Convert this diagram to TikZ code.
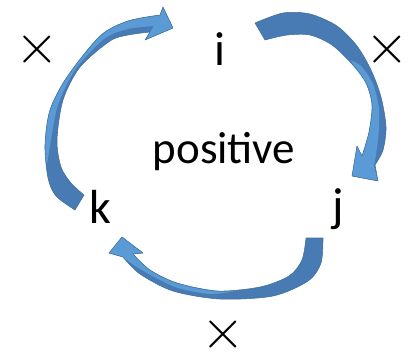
\documentclass[tikz,border=0pt]{standalone}
\usepackage{fontspec}
\setmainfont{Carlito}
\usetikzlibrary{positioning}
\definecolor{arrdark}{RGB}{72,122,180}
\definecolor{arrlight}{RGB}{91,155,213}
\definecolor{arrline}{RGB}{65,113,156}
\tikzset{
  letter/.style={anchor=base,inner sep=0pt,font=\fontsize{34}{40}\selectfont},
  cross/.style={inner sep=0pt,font=\fontsize{24}{28}\selectfont},
}
\newcommand\bigtimes{\scalebox{1.6}{$\times$}}
\def\bodyone{plot[smooth] coordinates {(75,210) (56,196) (48,178) (45,145) (50,110) (67,77) (100,36) (128,21) (160,15)}
  -- (163,7) -- (173,28) -- (145,40)
  -- plot[smooth] coordinates {(150,32) (128,35) (110,41) (80,67) (63,100) (57,140) (61,167) (71,183) (84,195)} -- cycle}
\def\liteone{plot[smooth] coordinates {(47,165) (45,145) (50,110) (67,77) (100,36) (128,21) (160,15)}
  -- (163,7) -- (173,28) -- (145,40)
  -- plot[smooth] coordinates {(154,26) (128,29) (104,39) (75,70) (58,105) (51,140) (47,165)} -- cycle}
\def\bodytwo{plot[smooth] coordinates {(255,23) (283,13) (310,14) (337,26) (357,46) (371,70) (381,97) (386,127) (383,150) (375,165)}
  -- (378,181) -- (352,176) -- (357,146)
  -- plot[smooth] coordinates {(362,156) (369,132) (372,105) (366,83) (352,64) (332,45) (310,35) (287,35) (265,40)} -- cycle}
\def\litetwo{plot[smooth] coordinates {(350,60) (356,68) (366,83) (372,105) (369,132) (362,156)}
  -- (357,146) -- (352,176) -- (378,181)
  -- plot[smooth] coordinates {(374,166) (378,140) (379,110) (373,84) (361,66) (350,60)} -- cycle}
\def\bodythree{plot[smooth] coordinates {(323,238) (321,263) (308,281) (273,296) (220,299) (173,291) (140,274) (123,257)}
  -- (109,253) -- (122,237) -- (143,253)
  -- plot[smooth] coordinates {(133,254) (150,270) (177,283) (217,291) (260,287) (289,276) (302,260) (306,238)} -- cycle}
\def\litethree{plot[smooth] coordinates {(235,291) (217,291) (177,283) (150,270) (133,254)}
  -- (143,253) -- (122,237) -- (109,253)
  -- plot[smooth] coordinates {(123,257) (140,269) (175,287) (210,294) (235,291)} -- cycle}
\begin{document}
\begin{tikzpicture}[x=0.025cm,y=-0.025cm]
  \useasboundingbox (0,0) rectangle (416,351);
  \fill[arrdark] \bodyone;
  \fill[arrlight] \liteone;
  \draw[arrline,line join=round] \bodyone;
  \fill[arrdark] \bodytwo;
  \fill[arrlight] \litetwo;
  \draw[arrline,line join=round] \bodytwo;
  \fill[arrdark] \bodythree;
  \fill[arrlight] \litethree;
  \draw[arrline,line join=round] \bodythree;
  \node[letter] (i) at (220,65) {i};
  \node[letter] (j) at (338,221) {j};
  \node[letter] (k) at (100,223) {k};
  \node[anchor=base,inner sep=0pt,font=\fontsize{32}{38}\selectfont] (pos) at (224,163) {positive};
  \node[cross] (xki) at (37,50) {\bigtimes};
  \node[cross] (xij) at (387,50) {\bigtimes};
  \node[cross] (xjk) at (223,334) {\bigtimes};
\end{tikzpicture}
\end{document}
